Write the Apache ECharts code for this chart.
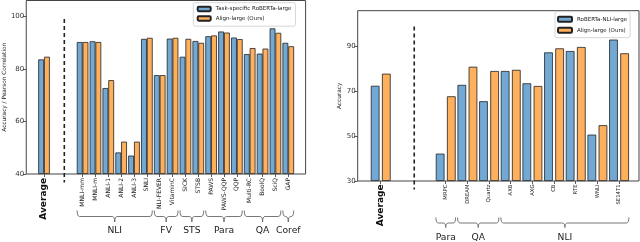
<!DOCTYPE html>
<html><head><meta charset="utf-8">
<script src="https://cdn.jsdelivr.net/npm/echarts@6/dist/echarts.min.js"></script>
<style>html,body{margin:0;padding:0;background:#fff}#c{width:640px;height:242px}</style>
</head><body><div id="c"></div>
<script>
// ---- data ----
const leftCategories = ['Average','_gap1','_gap2','MNLI-mm','MNLI-m','ANLI-1','ANLI-2','ANLI-3','SNLI','NLI-FEVER','VitaminC','SICK','STSB','PAWS','PAWS-QQP','QQP','Multi-RC','BoolQ','SciQ','GAP'];
const leftBaseline = [83.6, null, null, 90.2, 90.5, 72.7, 48.2, 47.0, 91.4, 77.6, 91.5, 84.6, 90.6, 92.4, 94.2, 91.9, 85.6, 85.8, 95.4, 89.9];
const leftAlign    = [84.6, null, null, 90.2, 90.2, 75.7, 52.3, 52.3, 91.8, 77.6, 91.8, 91.4, 89.9, 92.7, 93.8, 91.3, 87.9, 87.7, 93.7, 88.6];
const leftTicks = [40, 60, 80, 100];
const leftGroups = [['NLI','MNLI-mm','SNLI'],['FV','NLI-FEVER','VitaminC'],['STS','SICK','STSB'],['Para','PAWS','QQP'],['QA','Multi-RC','SciQ'],['Coref','GAP','GAP']];

const rightCategories = ['Average','_gap1','_gap2','MRPC','DREAM','Quartz','AXB','AXG','CB','RTE','WNLI','SE14T1'];
const rightBaseline = [72.5, null, null, 42.2, 72.9, 65.6, 79.1, 73.6, 87.4, 88.0, 50.7, 93.1];
const rightAlign    = [77.9, null, null, 67.8, 81.0, 79.1, 79.6, 72.4, 89.2, 89.8, 54.9, 87.0];
const rightTicks = [30, 50, 70, 90];
const rightGroups = [['Para','MRPC','MRPC'],['QA','DREAM','Quartz'],['NLI','AXB','SE14T1']];

const leftNames = ['Task-specific RoBERTa-large', 'Align-large (Ours)'];
const rightNames = ['RoBERTa-NLI-large', 'Align-large (Ours)'];

// ---- chart ----
const FONT = 'DejaVu Sans';
const BLUE = '#72a9d4', ORANGE = '#ffb05c', EDGE = '#222';
const chart = echarts.init(document.getElementById('c'), null, {renderer: 'canvas'});

function catLabel(v) {
  if (v.charAt(0) === '_') return '';
  if (v === 'Average') return '{avg|Average}';
  return v;
}
function catAxis(grid, data, fs, margin) {
  return {
    type: 'category', gridIndex: grid, data: data,
    axisLine: {show: false},
    axisTick: {show: true, alignWithLabel: true, length: 3, interval: (i, v) => v.charAt(0) !== '_', lineStyle: {color: '#333', width: 0.8}},
    axisLabel: {interval: 0, rotate: 90, fontSize: fs, margin: margin, color: '#222', fontFamily: FONT, formatter: catLabel,
      rich: {avg: {fontSize: 9, fontWeight: 'bold', color: '#111', fontFamily: FONT}}},
    splitLine: {show: false}
  };
}
function valAxis(grid, min, max, ticks, name, visible, gap) {
  if (!visible) return {type: 'value', gridIndex: grid, min: min, max: max, startValue: min, show: false, splitLine: {show: false}};
  return {
    type: 'value', gridIndex: grid, min: min, max: max, startValue: min,
    axisLine: {show: false},
    axisTick: {show: true, length: 3.5, customValues: ticks, lineStyle: {color: '#333', width: 0.8}},
    axisLabel: {customValues: ticks, fontSize: 7, margin: 2, color: '#333', fontFamily: FONT},
    splitLine: {show: false},
    name: name, nameLocation: 'middle', nameGap: gap,
    nameTextStyle: {fontSize: 5.8, color: '#222', fontFamily: FONT}
  };
}
function barSeries(name, xi, data, color, width, gap) {
  return {type: 'bar', name: name, xAxisIndex: xi, yAxisIndex: xi, data: data, barWidth: width, barGap: gap, clip: true,
    itemStyle: {color: color, borderColor: EDGE, borderWidth: 0.8}};
}

const option = {
  animation: false,
  textStyle: {fontFamily: FONT},
  grid: [
    {left: 26, top: 0.5, width: 279.6, height: 173.5, show: true, borderColor: '#444', borderWidth: 1, backgroundColor: 'transparent'},
    {left: 37.6, top: 0.5, width: 257.1, height: 173.5},
    {left: 357.7, top: 10.7, width: 281.3, height: 170.3, show: true, borderColor: '#444', borderWidth: 1, backgroundColor: 'transparent'},
    {left: 369.9, top: 10.7, width: 260, height: 170.3}
  ],
  xAxis: [
    {type: 'value', gridIndex: 0, show: false},
    catAxis(1, leftCategories, 6, 4),
    {type: 'value', gridIndex: 2, show: false},
    catAxis(3, rightCategories, 5.3, 3.5)
  ],
  yAxis: [
    valAxis(0, 40, 106, leftTicks, 'Accuracy / Pearson Correlation', true, 12.5),
    valAxis(1, 40, 106, leftTicks, '', false),
    valAxis(2, 30, 106, rightTicks, 'Accuracy', true, 14),
    valAxis(3, 30, 106, rightTicks, '', false)
  ],
  legend: [
    {data: leftNames, orient: 'vertical', left: 193.3, top: 2.7, padding: [3, 4, 4.5, 3.4], itemWidth: 13, itemHeight: 4.5, itemGap: 3, itemTextGap: 3,
      backgroundColor: '#fff', borderColor: '#ccc', borderWidth: 0.8, borderRadius: 2, selectedMode: false,
      textStyle: {fontSize: 5.5, lineHeight: 5, color: '#222', fontFamily: FONT}},
    {data: rightNames, orient: 'vertical', left: 555, top: 11.7, padding: [4, 3, 4, 2], itemWidth: 14, itemHeight: 5, itemGap: 4, itemTextGap: 4,
      backgroundColor: '#fff', borderColor: '#ccc', borderWidth: 0.8, borderRadius: 2, selectedMode: false,
      textStyle: {fontSize: 5.5, lineHeight: 6, color: '#222', fontFamily: FONT}}
  ],
  series: [
    barSeries(leftNames[0], 1, leftBaseline, BLUE, 5.8, '0%'),
    barSeries(leftNames[1], 1, leftAlign, ORANGE, 5.8, '0%'),
    barSeries(rightNames[0], 3, rightBaseline, BLUE, 8.7, '28%'),
    barSeries(rightNames[1], 3, rightAlign, ORANGE, 8.7, '28%')
  ]
};
chart.setOption(option);

// ---- annotations derived from the axes ----
function px(xi, cat) { return chart.convertToPixel({xAxisIndex: xi}, cat); }
function py(yi, v) { return chart.convertToPixel({yAxisIndex: yi}, v); }
const elements = [];
const braceStyle = {stroke: '#555', fill: null, lineWidth: 0.8};
function curve(xa, ya, cx, cy, xb, yb) {
  elements.push({type: 'bezierCurve', shape: {x1: xa, y1: ya, cpx1: cx, cpy1: cy, x2: xb, y2: yb}, style: braceStyle});
}
function seg(xa, ya, xb, yb) {
  elements.push({type: 'line', shape: {x1: xa, y1: ya, x2: xb, y2: yb}, style: braceStyle});
}
function addDecor(xi, yi, cats, groups, yMin, yTopHook, yLine, yTip, yLabel) {
  const band = px(xi, cats[1]) - px(xi, cats[0]);
  const dx = (px(xi, cats[1]) + px(xi, cats[2])) / 2 + 1;
  elements.push({type: 'line', shape: {x1: dx, y1: py(yi, 99), x2: dx, y2: py(yi, yMin) + 8.5},
    style: {stroke: '#222', lineWidth: 1.6, lineDash: [4, 3]}, z: 10});
  groups.forEach(g => {
    const x0 = px(xi, g[1]) - 0.5 * band + 1;
    const x1 = px(xi, g[2]) + 0.5 * band - 1;
    const m = (x0 + x1) / 2;
    const r = 2.5;
    curve(x0, yTopHook, x0, yLine, x0 + r, yLine);
    seg(x0 + r, yLine, m - r, yLine);
    curve(m - r, yLine, m, yLine, m, yTip);
    curve(m, yTip, m, yLine, m + r, yLine);
    seg(m + r, yLine, x1 - r, yLine);
    curve(x1 - r, yLine, x1, yLine, x1, yTopHook);
    elements.push({type: 'text', x: m, y: yLabel, style: {text: g[0], fontSize: 9.2, fontFamily: FONT, fill: '#222',
      align: 'center', verticalAlign: 'middle', textAlign: 'center', textVerticalAlign: 'middle'}});
  });
}
addDecor(1, 1, leftCategories, leftGroups, 40, 210.5, 216.5, 222, 231);
addDecor(3, 3, rightCategories, rightGroups, 30, 217.5, 223, 227.5, 237.5);
chart.setOption({graphic: elements});
</script>
</body></html>
